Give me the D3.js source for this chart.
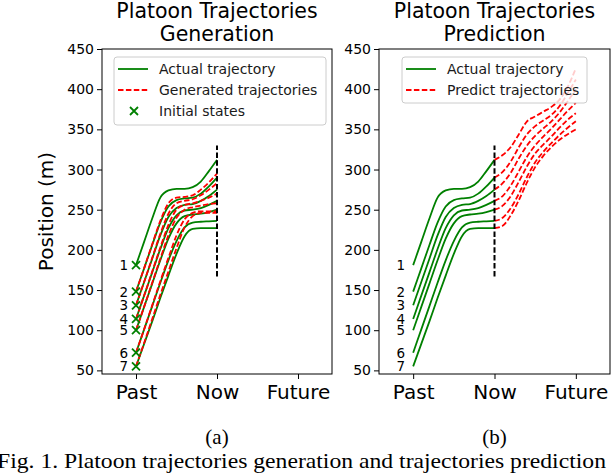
<!DOCTYPE html>
<html><head><meta charset="utf-8">
<script src="https://cdn.jsdelivr.net/npm/d3@7"></script>
<style>body{margin:0;background:#fff}svg{display:block}</style>
</head><body><svg id="c" width="612" height="474"></svg>
<script>
// ---------- data ----------
const pastT = [0,0.1,0.2,0.3,0.4,0.5,0.6,0.7,0.8,0.9,1.0];
const futureT = [1.0,1.1,1.2,1.3,1.4,1.5,1.6,1.7,1.8,1.9,2.0];
const vehicleLabels = ["1","2","3","4","5","6","7"];
const initialStates = [181,148,131,114,100,72,55];
const actual1 = [181,210,239,265,274,276,276,278,285,298,312];
const actual2 = [148,177,206,234,254,262,264,265,270,279,290];
const actual3 = [131,160,189,218,241,252,256,257,261,267,275];
const actual4 = [114,143,172,201,227,243,249,250,252,256,261];
const actual5 = [100,129,158,187,214,233,242,244,245,247,250];
const actual6 = [72,101,130,159,187,211,228,234,235,235.5,236];
const actual7 = [55,83,111,140,168,195,217,226,227,227,227];
const actualSeries = [actual1,actual2,actual3,actual4,actual5,actual6,actual7];
const gen2 = [148,177,207,236,258,265,266,268,275,284,295];
const gen3 = [131,160,190,220,245,258,261,263,268,275,283];
const gen4 = [114,143,173,203,231,250,256,258,261,265,270];
const gen5 = [100,129,159,189,218,240,250,253,255,257,258];
const gen6 = [72,101,131,161,190,218,238,246,248,248,248];
const gen7 = [55,84,114,144,173,202,228,242,246,246,246];
const generatedSeries = [gen2,gen3,gen4,gen5,gen6,gen7];
const pred1 = [312,318,328,344,360,366,372,378,387,403,426];
const pred2 = [290,297,310,328,344,354,361,368,379,395,412];
const pred3 = [275,283,296,314,330,342,351,360,371,385,400];
const pred4 = [261,267,280,298,316,330,341,351,362,373,383];
const pred5 = [250,255,267,285,304,320,331,341,352,362,370];
const pred6 = [236,240,252,270,291,309,322,333,343,352,360];
const pred7 = [227,230,243,262,284,303,317,328,337,344,350];
const predictedSeries = [pred1,pred2,pred3,pred4,pred5,pred6,pred7];
const xTickValues = [0,1,2];
const xTickLabels = ["Past","Now","Future"];
const yTickValues = [50,100,150,200,250,300,350,400,450];
const nowLine = [167,330];
const titles = [["Platoon Trajectories","Generation"],["Platoon Trajectories","Prediction"]];
const legendA = ["Actual trajectory","Generated trajectories","Initial states"];
const legendB = ["Actual trajectory","Predict trajectories"];
const subLabels = ["(a)","(b)"];
const caption = "Fig. 1. Platoon trajectories generation and trajectories prediction";

// ---------- drawing ----------
const svg = d3.select("#c");
const FONT = "DejaVu Sans, sans-serif";
const GREEN = "#008000", RED = "#ff0000";
const panels = [{x0:102,x1:332},{x0:379,x1:610}];
const plotTop = 49, plotBottom = 374;
const y = d3.scaleLinear().domain([45.5,450]).range([plotBottom,plotTop]);

panels.forEach((p,pi)=>{
  const x = d3.scaleLinear().domain([-0.42,2.42]).range([p.x0,p.x1]);
  const g = svg.append("g");
  const clipId = "clip"+pi;
  svg.append("clipPath").attr("id",clipId).append("rect")
    .attr("x",p.x0).attr("y",plotTop).attr("width",p.x1-p.x0).attr("height",plotBottom-plotTop);
  const plot = g.append("g").attr("clip-path",`url(#${clipId})`);
  const line = d3.line().curve(d3.curveMonotoneX);

  actualSeries.forEach(s=>{
    plot.append("path").attr("d",line(s.map((v,i)=>[x(pastT[i]),y(v)])))
      .attr("fill","none").attr("stroke",GREEN).attr("stroke-width",1.8);
  });
  if(pi===0){
    generatedSeries.forEach(s=>{
      plot.append("path").attr("d",line(s.map((v,i)=>[x(pastT[i]),y(v)])))
        .attr("fill","none").attr("stroke",RED).attr("stroke-width",1.8)
        .attr("stroke-dasharray","5.5,2.4");
    });
    initialStates.forEach(v=>{
      const cx=x(0), cy=y(v), r=4;
      plot.append("path").attr("d",`M${cx-r},${cy-r}L${cx+r},${cy+r}M${cx-r},${cy+r}L${cx+r},${cy-r}`)
        .attr("stroke",GREEN).attr("stroke-width",1.8);
    });
  } else {
    predictedSeries.forEach(s=>{
      plot.append("path").attr("d",line(s.map((v,i)=>[x(futureT[i]),y(v)])))
        .attr("fill","none").attr("stroke",RED).attr("stroke-width",1.8)
        .attr("stroke-dasharray","5.5,2.4");
    });
  }
  plot.append("line").attr("x1",x(1)).attr("x2",x(1)).attr("y1",y(nowLine[0])).attr("y2",y(nowLine[1]))
    .attr("stroke","#000").attr("stroke-width",2).attr("stroke-dasharray","5.5,2.4");

  initialStates.forEach((v,i)=>{
    g.append("text").attr("x",x(0)-8).attr("y",y(v)).attr("text-anchor","end")
      .attr("dominant-baseline","central").attr("font-family",FONT).attr("font-size",13.5)
      .attr("fill","#000").text(vehicleLabels[i]);
  });

  const ya = d3.axisLeft(y).tickValues(yTickValues).tickSize(5).tickPadding(3);
  const yg = g.append("g").attr("transform",`translate(${p.x0},0)`).call(ya);
  yg.select(".domain").remove();
  yg.selectAll("text").attr("font-family",FONT).attr("font-size",14).attr("fill","#000");
  const xa = d3.axisBottom(x).tickValues(xTickValues).tickFormat((d,i)=>xTickLabels[i]).tickSize(5).tickPadding(6);
  const xg = g.append("g").attr("transform",`translate(0,${plotBottom})`).call(xa);
  xg.select(".domain").remove();
  xg.selectAll("text").attr("font-family",FONT).attr("font-size",20).attr("fill","#000");
  g.append("rect").attr("x",p.x0).attr("y",plotTop).attr("width",p.x1-p.x0).attr("height",plotBottom-plotTop)
    .attr("fill","none").attr("stroke","#000").attr("stroke-width",1);

  const cxT = (p.x0+p.x1)/2;
  const t = g.append("text").attr("text-anchor","middle").attr("font-family",FONT).attr("font-size",20.5).attr("fill","#000");
  titles[pi].forEach((s,k)=>t.append("tspan").attr("x",cxT).attr("y",17.5+k*23.3).text(s));

  const entries = pi===0 ? legendA : legendB;
  const lx = pi===0 ? 114 : 402, lw = pi===0 ? 212 : 185;
  const lh = pi===0 ? 68 : 46;
  const lg = g.append("g");
  lg.append("rect").attr("x",lx).attr("y",57).attr("width",lw).attr("height",lh).attr("rx",3)
    .attr("fill","#fff").attr("fill-opacity",0.8).attr("stroke","#cccccc").attr("stroke-width",1);
  entries.forEach((e,k)=>{
    const ey = 69 + k*21;
    if(k===0){
      lg.append("line").attr("x1",lx+4).attr("x2",lx+34).attr("y1",ey).attr("y2",ey)
        .attr("stroke",GREEN).attr("stroke-width",1.8);
    } else if(k===1){
      lg.append("line").attr("x1",lx+4).attr("x2",lx+34).attr("y1",ey).attr("y2",ey)
        .attr("stroke",RED).attr("stroke-width",1.8).attr("stroke-dasharray","5.5,2.4");
    } else {
      const cx=lx+20, r=4;
      lg.append("path").attr("d",`M${cx-r},${ey-r}L${cx+r},${ey+r}M${cx-r},${ey+r}L${cx+r},${ey-r}`)
        .attr("stroke",GREEN).attr("stroke-width",1.8);
    }
    lg.append("text").attr("x",lx+45).attr("y",ey).attr("dominant-baseline","central")
      .attr("font-family",FONT).attr("font-size",14).attr("fill","#1a1a1a").text(e);
  });

  svg.append("text").attr("x",cxT).attr("y",444).attr("text-anchor","middle")
    .attr("font-family","Liberation Serif, serif").attr("font-size",21).attr("fill","#000").text(subLabels[pi]);
});

svg.append("text").attr("transform","translate(46,211.5) rotate(-90)").attr("text-anchor","middle")
  .attr("dominant-baseline","central").attr("font-family",FONT).attr("font-size",20).attr("fill","#000")
  .text("Position (m)");

svg.append("text").attr("x",-3).attr("y",468).attr("font-family","Liberation Serif, serif")
  .attr("font-size",22).attr("textLength",609).attr("lengthAdjust","spacingAndGlyphs")
  .attr("fill","#000").text(caption);
</script></body></html>
